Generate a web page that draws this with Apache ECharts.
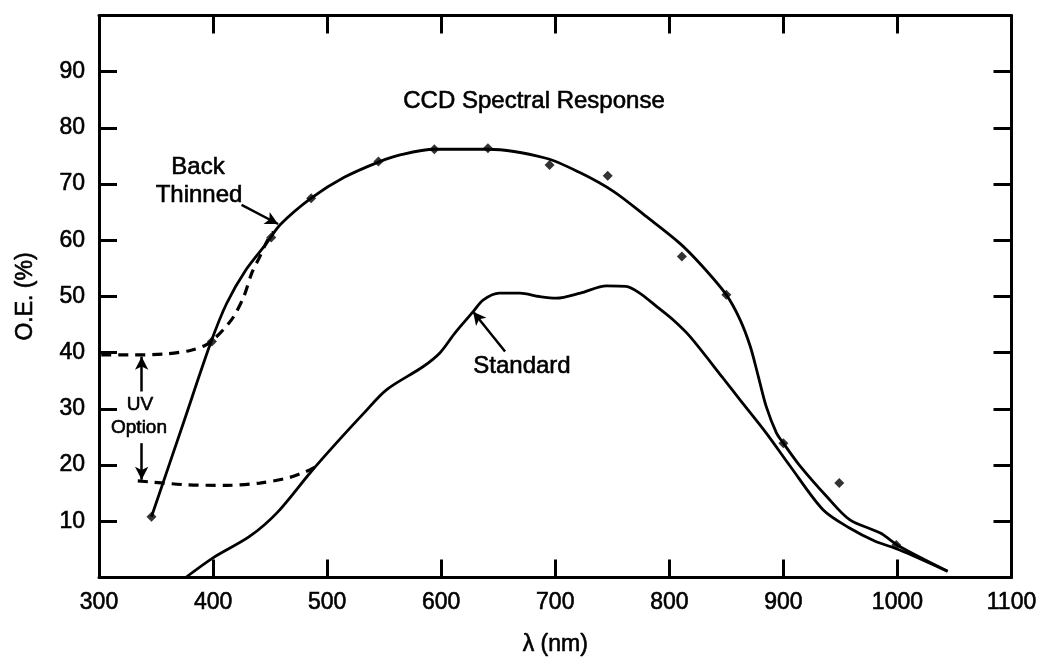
<!DOCTYPE html>
<html>
<head>
<meta charset="utf-8">
<script src="https://cdn.jsdelivr.net/npm/echarts@6/dist/echarts.min.js"></script>
<style>
html,body{margin:0;padding:0;background:#fff;}
#chart{width:1044px;height:657px;}
</style>
</head>
<body>
<div id="chart"></div>
<script>
// ---- data ----
const xTicks = [300, 400, 500, 600, 700, 800, 900, 1000, 1100];
const yTicks = [10, 20, 30, 40, 50, 60, 70, 80, 90];

const backThinnedCurve = [
  [346, 10.8], [374, 27.5], [398, 41.8], [412, 48.8], [429, 54.8], [447, 59.5],
  [459, 62.8], [486, 67.5], [515, 71.2], [546, 74], [564, 75.2], [594, 76.2],
  [641, 76.2], [692, 74.6], [722, 72], [751, 68.7], [780, 64.2], [809, 59.5],
  [828, 55.6], [850, 50.3], [862, 45.9], [871, 41.1], [878, 35.8], [885, 30.4],
  [894, 25.7], [900, 23.9], [914, 20], [938, 14.4], [958, 10.3], [985, 7.9],
  [1002, 5.5], [1044, 1.1]
];
const backThinnedPoints = [
  [346, 10.8], [399, 42], [451, 60.5], [486, 67.5], [545, 74], [594, 76.2],
  [641, 76.4], [695, 73.4], [746, 71.5], [811, 57.1], [850, 50.3], [900, 23.9],
  [949, 16.8], [999, 5.8]
];
const standardCurve = [
  [376, 0], [400, 3.5], [432, 7.3], [456, 11.5], [485, 18.6], [508, 23.9],
  [532, 29.2], [552, 33.4], [584, 37.5], [599, 40], [612, 43.5], [628, 47.3],
  [637, 49.4], [651, 50.6], [669, 50.6], [686, 50], [701, 49.7], [722, 50.6],
  [745, 51.9], [762, 51.8], [774, 50.6], [789, 48.2], [803, 45.9], [818, 42.9],
  [847, 35.5], [862, 31.6], [885, 25.7], [906, 19.8], [935, 12], [958, 8.8],
  [980, 6.5], [1002, 4.9], [1044, 1.1]
];
const uvOptionBackThinned = [
  [302, 39.6], [330, 39.6], [360, 39.8], [380, 40.4], [392, 41.2], [400, 42.3],
  [409, 44.1], [418, 46.4], [427, 50], [434, 54.2], [441, 57.1], [448, 60.1],
  [453, 61.5]
];
const uvOptionStandard = [
  [334, 17.2], [345, 17], [377, 16.5], [412, 16.4], [441, 16.8], [467, 17.8],
  [482, 18.9], [489, 19.6]
];
// annotation arrows: [from, to] in data units
const arrowBackThinned = [[425, 66.3], [457, 62.9]];
const arrowStandard = [[656, 40.2], [628, 47.3]];
const arrowUvUp = [[337.4, 33.1], [337.4, 39.3]];
const arrowUvDown = [[337.4, 23.9], [337.4, 17.4]];

const FONT = '"Liberation Sans", Arial, Helvetica, sans-serif';
const INK = '#000';
const TB = 0.6; // slight text thickening, like the scanned print

const chart = echarts.init(document.getElementById('chart'), null, {renderer: 'canvas'});

function arrowPair(a) {
  return [{coord: a[0], symbol: 'none'}, {coord: a[1], symbol: 'arrow'}];
}
function label(text, x, y, size) {
  return {type: 'text', x: x, y: y, style: {text: text, fill: INK, stroke: INK, lineWidth: TB,
    font: size + 'px ' + FONT, textAlign: 'center', textVerticalAlign: 'middle'}};
}

const axisLineStyle = {color: INK, width: 3};
const tickStyle = {inside: true, length: 18, lineStyle: {color: INK, width: 3}};
const labelText = {color: INK, fontSize: 23, fontFamily: FONT, textBorderColor: INK, textBorderWidth: TB};

const option = {
  backgroundColor: '#fff',
  animation: false,
  grid: {left: 99, right: 32.5, top: 15.5, bottom: 79.5, containLabel: false, outerBoundsMode: 'none'},
  xAxis: [
    {
      type: 'value', min: xTicks[0], max: xTicks[xTicks.length - 1], interval: 100,
      position: 'bottom',
      axisLine: {show: true, onZero: false, lineStyle: axisLineStyle},
      axisTick: tickStyle,
      splitLine: {show: false},
      axisLabel: Object.assign({margin: 14,
        formatter: v => (xTicks.indexOf(v) >= 0 ? String(v) : '')}, labelText),
      name: 'λ (nm)', nameLocation: 'middle', nameGap: 56,
      nameTextStyle: labelText
    },
    {
      type: 'value', min: xTicks[0], max: xTicks[xTicks.length - 1], interval: 100,
      position: 'top',
      axisLine: {show: true, onZero: false, lineStyle: axisLineStyle},
      axisTick: tickStyle,
      splitLine: {show: false},
      axisLabel: {show: false}
    }
  ],
  yAxis: [
    {
      type: 'value', min: 0, max: 100, interval: 10,
      position: 'left',
      axisLine: {show: true, onZero: false, lineStyle: axisLineStyle},
      axisTick: tickStyle,
      splitLine: {show: false},
      axisLabel: Object.assign({margin: 14,
        formatter: v => (yTicks.indexOf(v) >= 0 ? String(v) : '')}, labelText),
      name: 'O.E. (%)', nameLocation: 'middle', nameGap: 62, nameRotate: 90,
      nameTextStyle: labelText
    },
    {
      type: 'value', min: 0, max: 100, interval: 10,
      position: 'right',
      axisLine: {show: true, onZero: false, lineStyle: axisLineStyle},
      axisTick: tickStyle,
      splitLine: {show: false},
      axisLabel: {show: false}
    }
  ],
  series: [
    {
      name: 'Back Thinned', type: 'line', data: backThinnedCurve,
      smooth: 0.3, showSymbol: false, symbol: 'none',
      lineStyle: {color: INK, width: 2.8}, z: 3,
      markLine: {
        silent: true, animation: false, symbolSize: [10, 13],
        lineStyle: {color: INK, width: 2.5, type: 'solid'},
        label: {show: false},
        data: [arrowPair(arrowBackThinned), arrowPair(arrowStandard),
               arrowPair(arrowUvUp), arrowPair(arrowUvDown)]
      }
    },
    {
      name: 'Back Thinned (measured)', type: 'scatter', data: backThinnedPoints,
      symbol: 'diamond', symbolSize: 10, itemStyle: {color: INK}, z: 4
    },
    {
      name: 'Standard', type: 'line', data: standardCurve,
      smooth: 0.3, showSymbol: false, symbol: 'none',
      lineStyle: {color: INK, width: 2.8}, z: 3
    },
    {
      name: 'UV Option (Back Thinned)', type: 'line', data: uvOptionBackThinned,
      smooth: 0.3, showSymbol: false, symbol: 'none',
      lineStyle: {color: INK, width: 3.2, type: [10, 7]}, z: 2
    },
    {
      name: 'UV Option (Standard)', type: 'line', data: uvOptionStandard,
      smooth: 0.3, showSymbol: false, symbol: 'none',
      lineStyle: {color: INK, width: 3.2, type: [10, 7]}, z: 2
    }
  ],
  graphic: [
    label('CCD Spectral Response', 534, 101, 24),
    label('Back', 198, 167, 24),
    label('Thinned', 199, 195, 24),
    label('Standard', 522, 366, 24),
    label('UV', 140, 405, 19),
    label('Option', 139, 428, 19)
  ]
};
chart.setOption(option);
</script>
</body>
</html>
